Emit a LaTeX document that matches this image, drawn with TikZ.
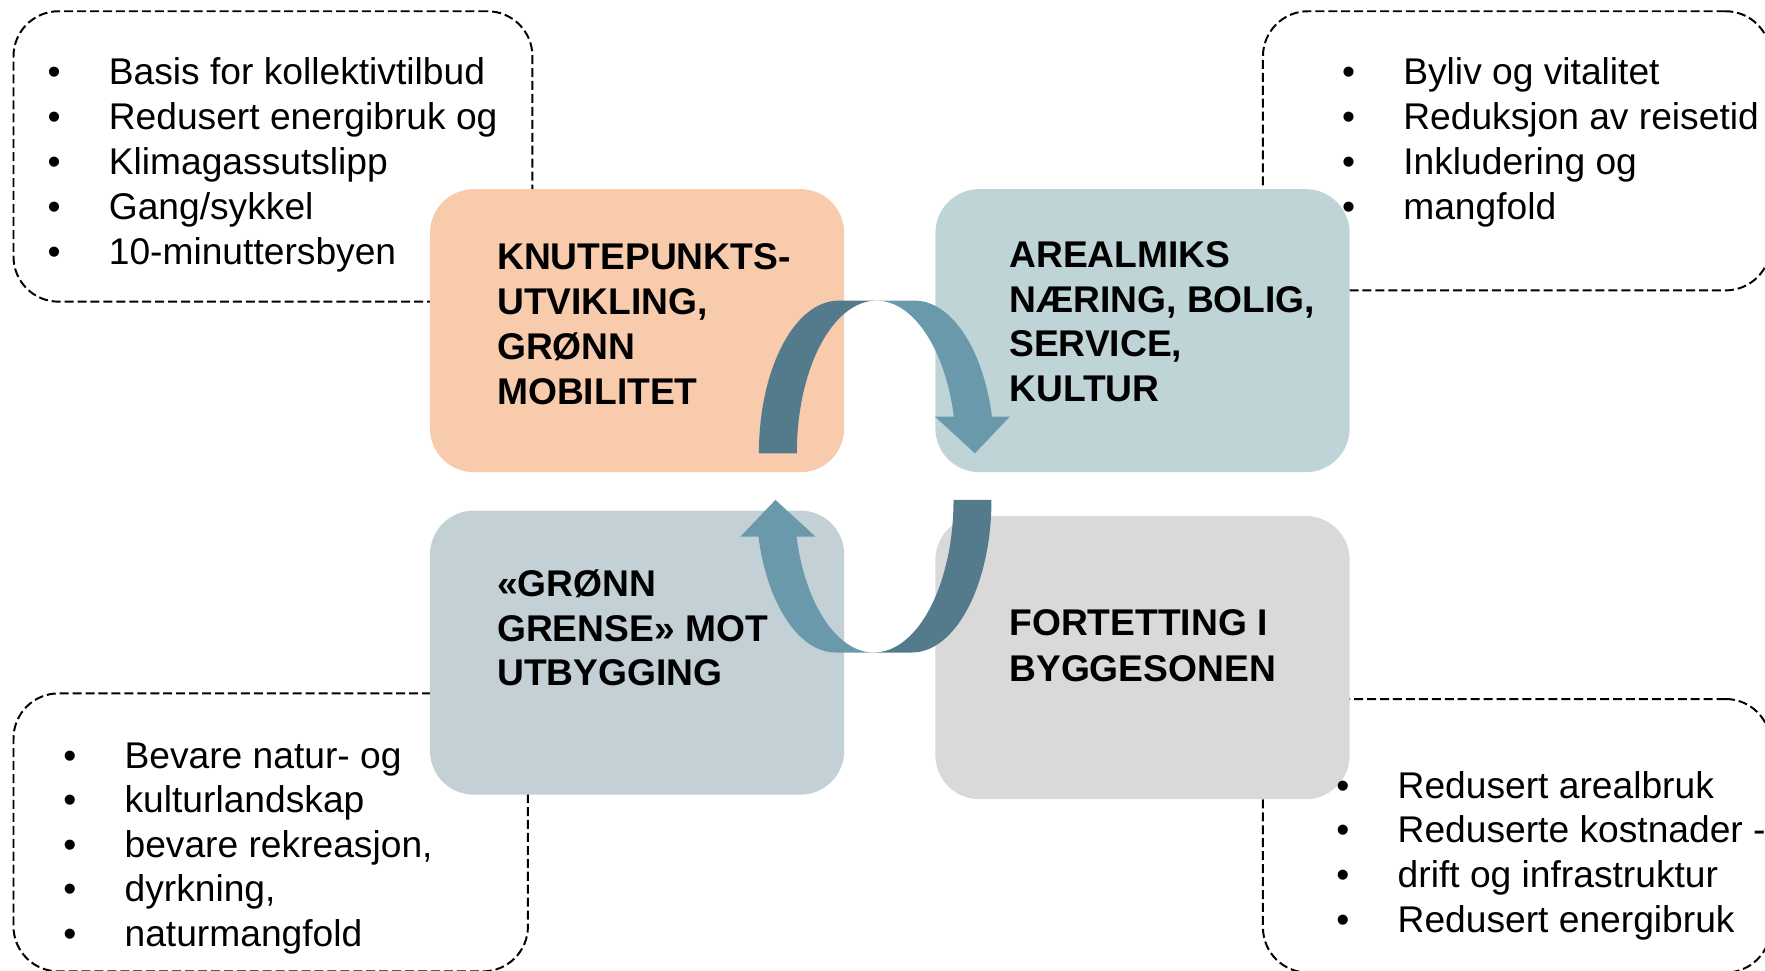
\documentclass[tikz,border=0pt]{standalone}
\usepackage{fontspec}
\setmainfont{Liberation Sans}
\definecolor{orfill}{HTML}{F8CBAD}
\definecolor{tealfill}{HTML}{BED4D6}
\definecolor{bluefill}{HTML}{C3D1D6}
\definecolor{grayfill}{HTML}{D9D9D9}
\definecolor{arrdark}{HTML}{547B8B}
\definecolor{arrlight}{HTML}{6A99AC}
\tikzset{
  dbox/.style={draw=black, line width=0.5pt, dash pattern=on 0.8mm off 0.35mm, rounded corners=4mm, inner sep=0pt},
  cbox/.style={draw=none, rounded corners=3.9mm, inner sep=0pt, minimum width=36.8mm},
  item/.style={inner sep=0pt, font=\fontsize{9.4}{11.4}\selectfont, anchor=base west},
  bul/.style={inner sep=0pt, font=\fontsize{9.4}{11.4}\selectfont, anchor=base},
  lab/.style={inner sep=0pt, font=\fontsize{9.4}{11.4}\selectfont\bfseries, anchor=base west},
  darkpart/.style={fill=arrdark},
  lightpart/.style={fill=arrlight}
}
\begin{document}
\begin{tikzpicture}[x=0.1mm,y=0.1mm]
\useasboundingbox (0,0) rectangle (1568,862);
% dashed boxes
\node[dbox, minimum width=46.1mm, minimum height=25.8mm] (dtl) at (242.5,723) {};
\node[dbox, minimum width=45.1mm, minimum height=24.8mm] (dtr) at (1347.5,728) {};
\node[dbox, minimum width=45.7mm, minimum height=24.7mm] (dbl) at (240.5,122.5) {};
\node[dbox, minimum width=45.1mm, minimum height=24.3mm] (dbr) at (1347.5,119.5) {};
% coloured boxes
\node[cbox, fill=orfill, minimum height=25.15mm] (knute) at (566,568.25) {};
\node[cbox, fill=tealfill, minimum height=25.15mm] (areal) at (1015,568.25) {};
\node[cbox, fill=bluefill, minimum height=25.24mm] (gronn) at (566,282.2) {};
\node[cbox, fill=grayfill, minimum height=25.16mm] (fort) at (1015,277.8) {};
% upper curved arrow
\fill[darkpart] (674.2,459.3) arc[start angle=180, end angle=90, x radius=70.8, y radius=135.6]
  -- (778.7,594.9) arc[start angle=90, end angle=180, x radius=70.8, y radius=135.6] -- cycle;
\fill[lightpart] (778.7,594.9) -- (812.5,594.9)
  arc[start angle=90, end angle=13.91, x radius=70.8, y radius=135.6]
  -- (897.2,491.9) -- (866.1,459.3) -- (830.6,491.9) -- (847.4,491.9)
  arc[start angle=13.91, end angle=90, x radius=70.8, y radius=135.6] -- cycle;
% lower curved arrow (same shape turned half round)
\begin{scope}[rotate around={180:(777.5,438.6)}]
\fill[darkpart] (674.2,459.3) arc[start angle=180, end angle=90, x radius=70.8, y radius=135.6]
  -- (778.7,594.9) arc[start angle=90, end angle=180, x radius=70.8, y radius=135.6] -- cycle;
\fill[lightpart] (778.7,594.9) -- (812.5,594.9)
  arc[start angle=90, end angle=13.91, x radius=70.8, y radius=135.6]
  -- (897.2,491.9) -- (866.1,459.3) -- (830.6,491.9) -- (847.4,491.9)
  arc[start angle=13.91, end angle=90, x radius=70.8, y radius=135.6] -- cycle;
\end{scope}
% box labels
\foreach \t [count=\i] in {KNUTEPUNKTS-, {UTVIKLING,}, GRØNN, MOBILITET}
  \node[lab] (kl\i) at (441,{663-40*\i}) {\t};
\foreach \t [count=\i] in {AREALMIKS, {NÆRING, BOLIG,}, {SERVICE,}, KULTUR}
  \node[lab] (al\i) at (896,{663.5-39.5*\i}) {\t};
\foreach \t [count=\i] in {«GRØNN, GRENSE» MOT, UTBYGGING}
  \node[lab] (gl\i) at (441,{371.5-39.5*\i}) {\t};
\foreach \t [count=\i] in {FORTETTING I, BYGGESONEN}
  \node[lab] (fl\i) at (896,{337-40*\i}) {\t};
% bullet lists
\foreach \t [count=\i] in {Basis for kollektivtilbud, Redusert energibruk og, Klimagassutslipp, Gang/sykkel, 10-minuttersbyen}{
  \node[bul] (tlb\i) at (48,{827-40*\i}) {•};
  \node[item] (tl\i) at (96,{827-40*\i}) {\t};
}
\foreach \t [count=\i] in {Byliv og vitalitet, Reduksjon av reisetid, Inkludering og, mangfold}{
  \node[bul] (trb\i) at (1198,{827-40*\i}) {•};
  \node[item] (tr\i) at (1246,{827-40*\i}) {\t};
}
\foreach \t [count=\i] in {Bevare natur- og, kulturlandskap, {bevare rekreasjon,}, {dyrkning,}, naturmangfold}{
  \node[bul] (blb\i) at (62,{219-39.5*\i}) {•};
  \node[item] (bl\i) at (110,{219-39.5*\i}) {\t};
}
\foreach \t [count=\i] in {Redusert arealbruk, Reduserte kostnader -, drift og infrastruktur, Redusert energibruk}{
  \node[bul] (brb\i) at (1193,{192.7-39.7*\i}) {•};
  \node[item] (br\i) at (1241,{192.7-39.7*\i}) {\t};
}
\end{tikzpicture}
\end{document}
